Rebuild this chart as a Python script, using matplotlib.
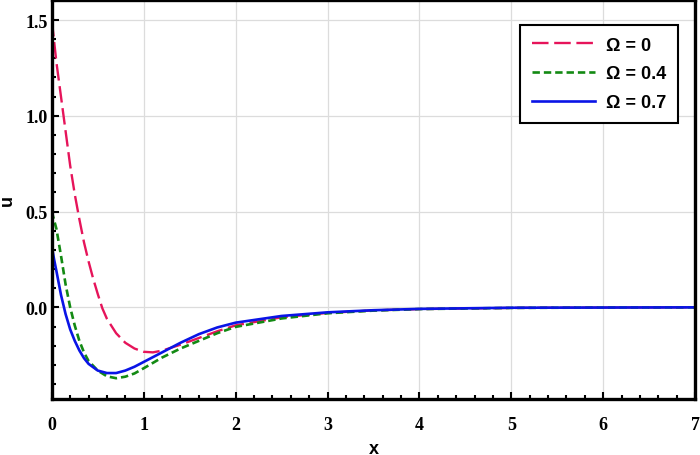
import matplotlib
matplotlib.use("Agg")
import matplotlib.pyplot as plt
from matplotlib.ticker import MultipleLocator

# curva Omega = 0
x_om0 = [0, 0.05, 0.1, 0.15, 0.2, 0.25, 0.3, 0.35, 0.4, 0.45, 0.5, 0.55, 0.6,
         0.7, 0.8, 0.9, 1.0, 1.1, 1.2, 1.4, 1.6, 1.8, 2.0, 2.5, 3.0, 3.5,
         4.0, 5.0, 6.0, 7.0]
u_om0 = [1.5, 1.28, 1.1, 0.92, 0.74, 0.59, 0.46, 0.34, 0.24, 0.15, 0.07,
         -0.005, -0.06, -0.135, -0.185, -0.215, -0.232, -0.235, -0.226,
         -0.195, -0.16, -0.125, -0.094, -0.052, -0.029, -0.016, -0.009,
         -0.003, -0.001, 0.0]

# curva Omega = 0.4
x_om4 = [0, 0.05, 0.1, 0.15, 0.2, 0.25, 0.3, 0.35, 0.4, 0.5, 0.6, 0.7, 0.8,
         0.9, 1.0, 1.1, 1.2, 1.4, 1.6, 1.8, 2.0, 2.5, 3.0, 3.5, 4.0, 5.0,
         6.0, 7.0]
u_om4 = [0.5, 0.41, 0.27, 0.12, 0.0, -0.095, -0.175, -0.235, -0.28, -0.33,
         -0.36, -0.37, -0.362, -0.345, -0.318, -0.29, -0.262, -0.215, -0.175,
         -0.135, -0.102, -0.058, -0.031, -0.017, -0.009, -0.003, -0.001, 0.0]

# curva Omega = 0.7
x_om7 = [0, 0.025, 0.05, 0.1, 0.15, 0.2, 0.25, 0.3, 0.35, 0.4, 0.5, 0.6,
         0.7, 0.8, 0.9, 1.0, 1.1, 1.2, 1.3, 1.4, 1.6, 1.8, 2.0, 2.5, 3.0,
         3.5, 4.0, 5.0, 6.0, 7.0]
u_om7 = [0.32, 0.25, 0.19, 0.065, -0.035, -0.115, -0.175, -0.225, -0.265,
         -0.295, -0.33, -0.343, -0.343, -0.33, -0.31, -0.285, -0.26, -0.235,
         -0.21, -0.185, -0.14, -0.105, -0.08, -0.045, -0.026, -0.015, -0.008,
         -0.002, -0.001, 0.0]

etiquetas = ["\u03a9 = 0", "\u03a9 = 0.4", "\u03a9 = 0.7"]

fig = plt.figure(figsize=(7, 4.56), dpi=100)
ax = fig.add_axes([0.074, 0.123, 0.919, 0.875])

ax.plot(x_om0, u_om0, color="#e6145a", lw=1.7, dashes=(7, 2.4), label=etiquetas[0])
ax.plot(x_om4, u_om4, color="#138a13", lw=1.9, dashes=(2.8, 1.5), label=etiquetas[1])
ax.plot(x_om7, u_om7, color="#0a14e6", lw=1.9, label=etiquetas[2])

ax.set_xlim(0, 7)
ax.set_ylim(-0.478, 1.605)

ax.xaxis.set_major_locator(MultipleLocator(1))
ax.xaxis.set_minor_locator(MultipleLocator(0.2))
ax.yaxis.set_major_locator(MultipleLocator(0.5))
ax.yaxis.set_minor_locator(MultipleLocator(0.1))

ax.grid(True, which="major", color="#dcdcdc", lw=0.9)
ax.set_axisbelow(True)

for s in ax.spines.values():
    s.set_linewidth(2.4)

ax.tick_params(which="both", direction="in", top=False, right=False, width=1.5)
ax.tick_params(which="major", length=5)
ax.tick_params(which="minor", length=3)
ax.tick_params(axis="x", pad=12)
ax.tick_params(axis="y", pad=3)

for lab in ax.get_xticklabels() + ax.get_yticklabels():
    lab.set_family("Liberation Serif")
    lab.set_fontweight("bold")
    lab.set_fontsize(13)

ax.set_xlabel("x", family="Liberation Sans", fontweight="bold", fontsize=13, labelpad=5)
ax.set_ylabel("u", family="Liberation Sans", fontweight="bold", fontsize=13, labelpad=7)

leg = ax.legend(loc="upper right", bbox_to_anchor=(0.987, 0.96), fancybox=False,
                framealpha=1, edgecolor="black", handlelength=3.5,
                handletextpad=0.6,
                prop={"family": "Liberation Sans", "weight": "bold", "size": 13},
                borderpad=0.65, labelspacing=0.65)
leg.get_frame().set_linewidth(1.5)

fig.savefig("out.png", dpi=100)
